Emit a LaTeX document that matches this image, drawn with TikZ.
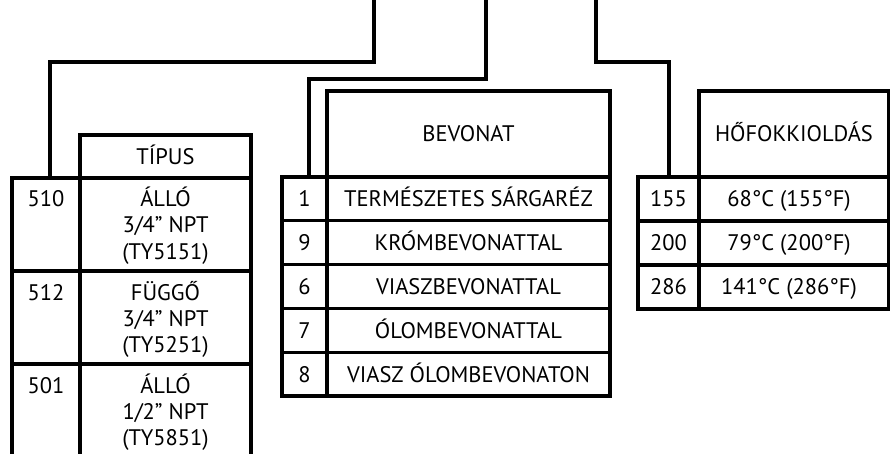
\documentclass[tikz,border=0pt]{standalone}
\usepackage{fontspec}
\setmainfont{PT Sans}
\begin{document}
\begin{tikzpicture}[x=1pt,y=-1pt,line width=3.2pt,line join=miter,
  cellfont/.style={font=\fontsize{22.5}{26}\selectfont},
  cell/.style={draw,rectangle,inner sep=0pt,outer sep=0pt,text height=15.8pt,text depth=0pt,cellfont},
  linetxt/.style={inner sep=0pt,outer sep=0pt,anchor=base,cellfont},
  conn/.style={draw,line width=3.2pt}]
\useasboundingbox (0,0) rectangle (890,454);
\clip (0,0) rectangle (890,454);
% ---------- left table ----------
\node[cell,minimum width=171pt,minimum height=43pt] (tipus) at (165.5,156.5) {TÍPUS};
\node[cell,minimum width=68pt,minimum height=93pt] (n510) at (46,224.5) {};
\node[cell,minimum width=171pt,minimum height=93pt] (t510) at (165.5,224.5) {};
\node[cell,minimum width=68pt,minimum height=93pt] (n512) at (46,317.5) {};
\node[cell,minimum width=171pt,minimum height=93pt] (t512) at (165.5,317.5) {};
\node[cell,minimum width=68pt,minimum height=120pt] (n501) at (46,424) {};
\node[cell,minimum width=171pt,minimum height=120pt] (t501) at (165.5,424) {};
\node[linetxt] (k510) at (46,207) {510};
\node[linetxt] (a1) at (165.5,207) {ÁLLÓ};
\node[linetxt] (a2) at (165.5,233) {3/4” NPT};
\node[linetxt] (a3) at (165.5,259) {(TY5151)};
\node[linetxt] (k512) at (46,300) {512};
\node[linetxt] (b1) at (165.5,300) {FÜGGŐ};
\node[linetxt] (b2) at (165.5,326) {3/4” NPT};
\node[linetxt] (b3) at (165.5,352) {(TY5251)};
\node[linetxt] (k501) at (46,393) {501};
\node[linetxt] (c1) at (165.5,393) {ÁLLÓ};
\node[linetxt] (c2) at (165.5,419) {1/2” NPT};
\node[linetxt] (c3) at (165.5,445) {(TY5851)};
% ---------- middle table ----------
\node[cell,minimum width=283pt,minimum height=86pt] (bevonat) at (468.5,134) {BEVONAT};
\foreach \i/\k/\t in {0/1/TERMÉSZETES SÁRGARÉZ,1/9/KRÓMBEVONATTAL,2/6/VIASZBEVONATTAL,3/7/ÓLOMBEVONATTAL,4/8/VIASZ ÓLOMBEVONATON}{
  \node[cell,minimum width=45pt,minimum height=43.8pt] (bn\i) at (304.5,{198.9+43.8*\i}) {\k};
  \node[cell,minimum width=283pt,minimum height=43.8pt] (bt\i) at (468.5,{198.9+43.8*\i}) {\t};
}
% ---------- right table ----------
\node[cell,minimum width=190pt,minimum height=86pt] (hofok) at (794,134) {HŐFOKKIOLDÁS};
\foreach \i/\k/\t in {0/155/68°C (155°F),1/200/79°C (200°F),2/286/141°C (286°F)}{
  \node[cell,minimum width=61pt,minimum height=44pt] (hn\i) at (668.5,{199+44*\i}) {\k};
  \node[cell,minimum width=190pt,minimum height=44pt] (ht\i) at (794,{199+44*\i}) {};
  \node[linetxt,anchor=center,text height=15.8pt,text depth=0pt] (hv\i) at (789,{199+44*\i}) {\t};
}
% ---------- connectors ----------
\coordinate (top1) at (374,0);
\coordinate (top2) at (486,0);
\coordinate (top3) at (596,0);
\coordinate (end1) at (50,178);
\coordinate (end2) at (309,177);
\coordinate (end3) at (669,177);
\draw[conn] (top1) -- ++(0,62) -| (end1);
\draw[conn] (top2) -- ++(0,79) -| (end2);
\draw[conn] (top3) -- ++(0,62) -| (end3);
\end{tikzpicture}
\end{document}
